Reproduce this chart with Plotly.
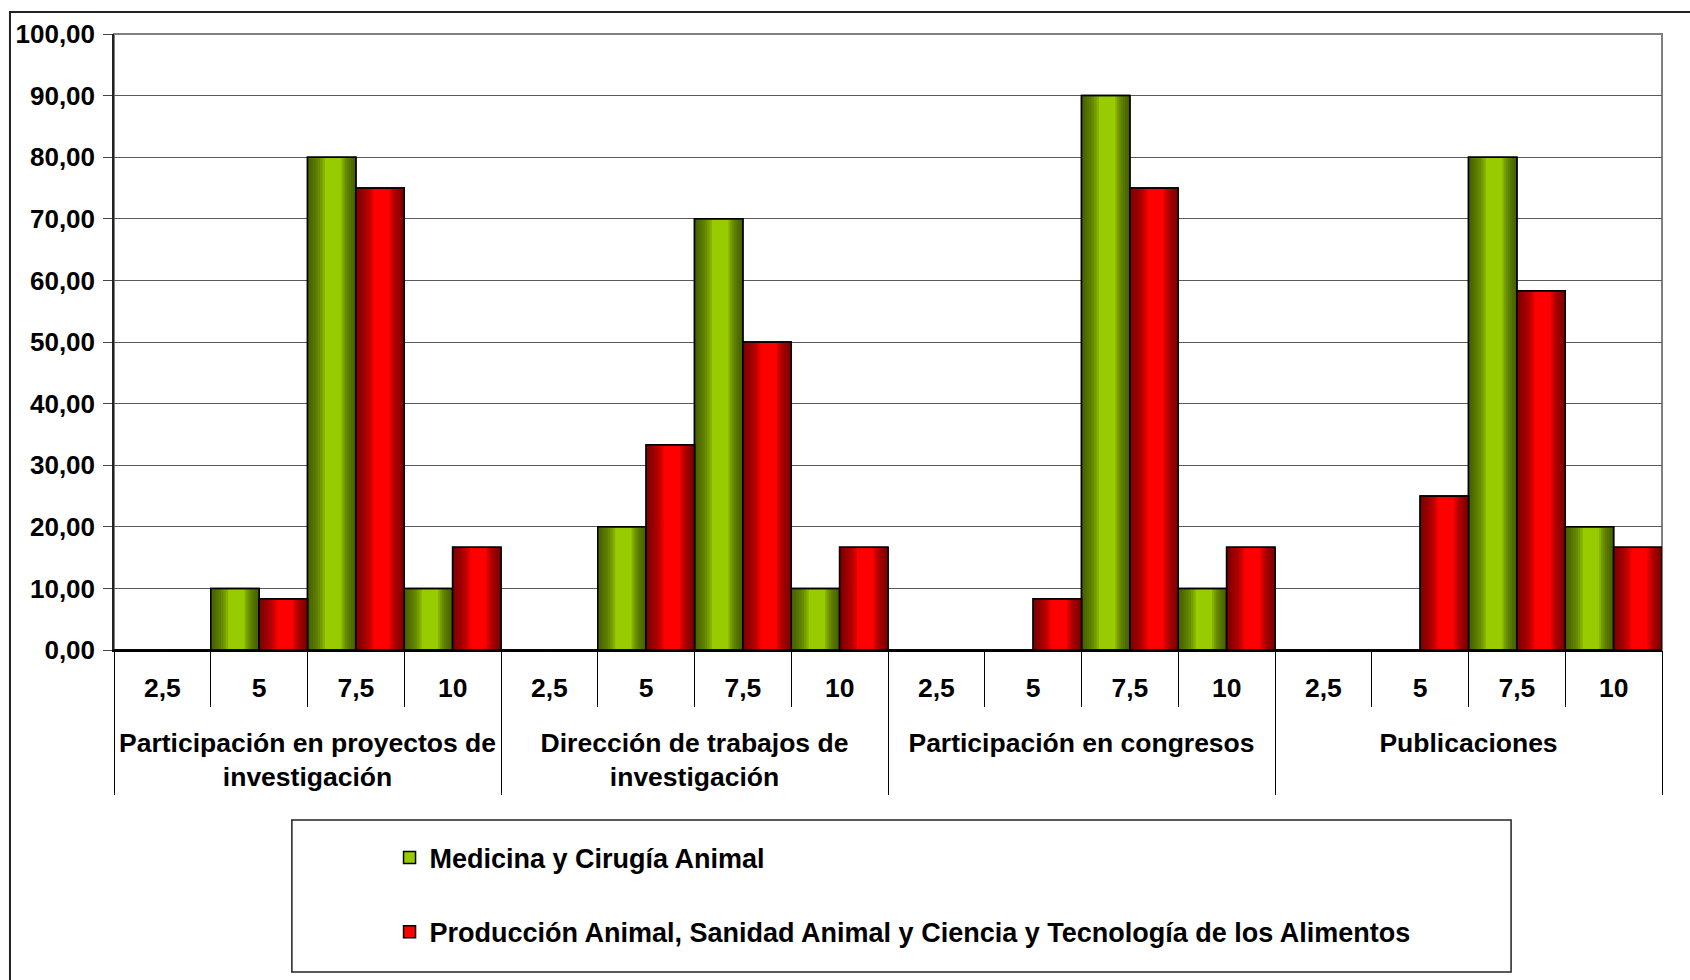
import plotly.graph_objects as go

# ---------------- data ----------------
groups = [
    "Participación en proyectos de<br>investigación",
    "Dirección de trabajos de<br>investigación",
    "Participación en congresos",
    "Publicaciones",
]
scores = ["2,5", "5", "7,5", "10"]

medicina = [          # Medicina y Cirugía Animal (per group, per score)
    [0, 10, 80, 10],
    [0, 20, 70, 10],
    [0, 0, 90, 10],
    [0, 0, 80, 20],
]
produccion = [        # Producción Animal, Sanidad Animal y Ciencia y Tecnología de los Alimentos
    [0, 8.33, 75, 16.67],
    [0, 33.33, 50, 16.67],
    [0, 8.33, 75, 16.67],
    [0, 25, 58.33, 16.67],
]
series_names = [
    "Medicina y Cirugía Animal",
    "Producción Animal, Sanidad Animal y Ciencia y Tecnología de los Alimentos",
]
y_ticks = [0, 10, 20, 30, 40, 50, 60, 70, 80, 90, 100]

# ---------------- build ----------------
x_groups = [g for g in groups for _ in scores]
x_scores = [s for _ in groups for s in scores]
x_multi = [x_groups, x_scores]
n_cat = len(x_scores)
n_sub = len(scores)

FONT = "Liberation Sans, Arial, sans-serif"
fig = go.Figure()

left_fracs = [0.36, 0.31, 0.26, 0.21, 0.16, 0.11, 0.07, 0.035]
right_fracs = [0.30, 0.26, 0.22, 0.18, 0.14, 0.10, 0.06, 0.03]


def add_series(values, name, bright, dark, pos):
    vals = [v for row in values for v in row]
    W = 0.5
    left = -0.5 + W * pos
    fig.add_trace(go.Bar(
        x=x_multi, y=vals, name=name, legendgroup=name,
        offset=left, width=W,
        marker=dict(color=bright, line=dict(color="black", width=1.5)),
        hoverinfo="skip",
    ))
    for f in left_fracs:
        fig.add_trace(go.Bar(
            x=x_multi, y=vals, showlegend=False, legendgroup=name,
            offset=left, width=W * f,
            marker=dict(color=dark, line=dict(width=0)), hoverinfo="skip",
        ))
    for f in right_fracs:
        fig.add_trace(go.Bar(
            x=x_multi, y=vals, showlegend=False, legendgroup=name,
            offset=left + W - W * f, width=W * f,
            marker=dict(color=dark, line=dict(width=0)), hoverinfo="skip",
        ))
    fig.add_trace(go.Bar(
        x=x_multi, y=vals, showlegend=False, legendgroup=name,
        offset=left, width=W,
        marker=dict(color="rgba(0,0,0,0)", line=dict(color="black", width=1.5)),
        hoverinfo="skip",
    ))


add_series(medicina, series_names[0], "#99CC00", "rgba(60,82,0,0.22)", 0)
add_series(produccion, series_names[1], "#FF0000", "rgba(110,0,0,0.22)", 1)

# helper (invisible) traces so that the overlay category-label axes are drawn
for ax_name in ["x2", "x3", "x4", "x5"]:
    fig.add_trace(go.Scatter(x=[-0.5, n_cat - 0.5], y=[0, 0], xaxis=ax_name, yaxis="y",
                             mode="none", showlegend=False, hoverinfo="skip"))

xr = [-0.5, n_cat - 0.5]
common_overlay = dict(overlaying="x", anchor="y", side="bottom", range=xr,
                      tickmode="array", showgrid=False, zeroline=False, showline=False)
label_font = dict(family=FONT, size=26.5, color="black", weight="bold")

fig.update_layout(
    width=1690, height=980,
    margin=dict(l=114, r=28, t=34, b=330, autoexpand=False),
    barmode="overlay",
    separators=",.",
    paper_bgcolor="white", plot_bgcolor="white",
    font=dict(family=FONT, size=25, color="black", weight="bold"),
    xaxis=dict(
        type="multicategory", range=xr,
        showline=True, linecolor="black", linewidth=1.5,
        ticks="", showticklabels=False, showdividers=False, showgrid=False,
    ),
    # score labels
    xaxis2=dict(**common_overlay,
                tickvals=list(range(n_cat)), ticktext=x_scores,
                ticks="outside", ticklen=14, tickcolor="rgba(0,0,0,0)",
                showticklabels=True, tickfont=label_font),
    # separators between scores
    xaxis3=dict(**common_overlay,
                tickvals=[i + 0.5 for i in range(n_cat - 1)],
                ticks="outside", ticklen=56, tickcolor="black", tickwidth=1,
                showticklabels=False),
    # group labels
    xaxis4=dict(**common_overlay,
                tickvals=[i * n_sub + (n_sub - 1) / 2 for i in range(len(groups))],
                ticktext=groups,
                ticks="outside", ticklen=69, tickcolor="rgba(0,0,0,0)",
                showticklabels=True, tickfont=label_font),
    # separators between groups
    xaxis5=dict(**common_overlay,
                tickvals=[i * n_sub - 0.5 for i in range(len(groups) + 1)],
                ticks="outside", ticklen=144, tickcolor="black", tickwidth=1,
                showticklabels=False),
    yaxis=dict(
        range=[0, 100], tickmode="array", tickvals=y_ticks,
        tickformat=".2f",
        showgrid=True, gridcolor="#5a5a5a", gridwidth=1,
        showline=True, linecolor="#222222", linewidth=1.5,
        ticks="outside", ticklen=9, tickcolor="#444444",
        ticklabelstandoff=3,
        zeroline=False,
        tickfont=dict(family=FONT, size=26, color="black", weight="bold"),
    ),
    legend=dict(
        x=0.178, y=-0.298, xanchor="left", yanchor="top",
        bgcolor="rgba(0,0,0,0)", borderwidth=0,
        tracegroupgap=36,
        font=dict(family=FONT, size=27, color="black", weight="bold"),
    ),
    shapes=[
        dict(type="rect", xref="paper", yref="paper", x0=0, x1=1, y0=0, y1=1,
             line=dict(color="#808080", width=2), layer="below"),
        dict(type="rect", xref="paper", yref="paper", x0=-0.0672, x1=1.1,
             y0=-0.75, y1=1.0357, line=dict(color="#222222", width=2), layer="below"),
        dict(type="rect", xref="paper", yref="paper", x0=0.1149, x1=0.9025,
             y0=-0.5227, y1=-0.276, line=dict(color="#222222", width=1.5), layer="below"),
    ],
)

fig.write_html(
    "out.html",
    config={"displayModeBar": False},
    post_script="document.body.style.margin='0';document.body.style.overflow='hidden';",
)
